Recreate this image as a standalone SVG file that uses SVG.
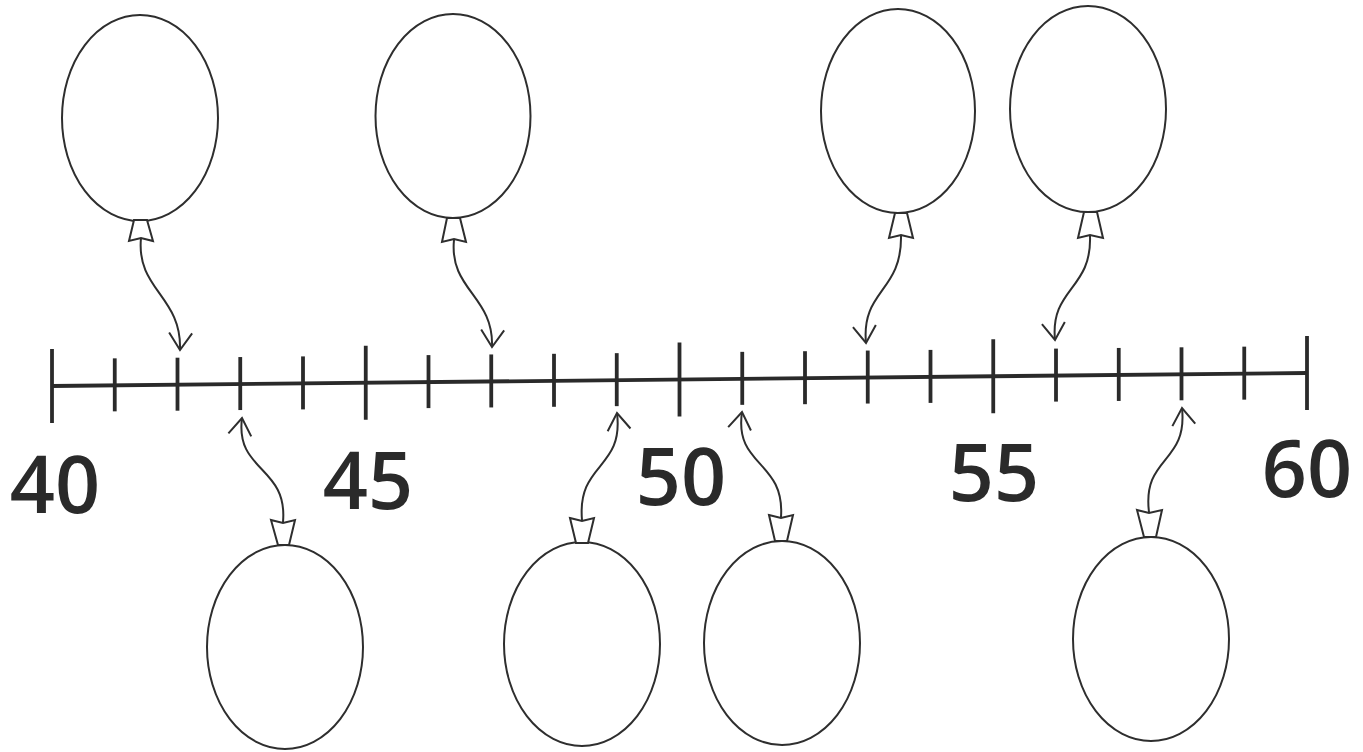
<svg xmlns="http://www.w3.org/2000/svg" width="1363" height="752" viewBox="0 0 1363 752">
<defs>
<style>
.bal{fill:#fff;stroke:#2e2e2e;stroke-width:2}
.knot{fill:#fff;stroke:#2e2e2e;stroke-width:2;stroke-linejoin:miter}
.str{fill:none;stroke:#2e2e2e;stroke-width:2;marker-end:url(#open)}
.tick{stroke:#2a2a2a;stroke-width:3.8;stroke-linecap:butt}
.num{font-family:"Open Sans","Liberation Sans",sans-serif;font-size:79px;font-weight:600;fill:#2a2a2a;text-anchor:middle}
</style>
<marker id="open" markerUnits="userSpaceOnUse" viewBox="-20 -14 24 28" markerWidth="24" markerHeight="28" refX="0" refY="0" orient="auto">
<path d="M-17,-11.5 L0,0 L-17,11.5" fill="none" stroke="#2e2e2e" stroke-width="2"/>
</marker>
</defs>
<rect width="1363" height="752" fill="#fff"/>

<g id="numberline">
<line class="tick" x1="52" y1="386" x2="1307" y2="373"/>
<line class="tick" x1="52" y1="349" x2="52" y2="423"/>
<line class="tick" x1="114.75" y1="358.35" x2="114.75" y2="411.35"/>
<line class="tick" x1="177.5" y1="357.7" x2="177.5" y2="410.7"/>
<line class="tick" x1="240.25" y1="357.05" x2="240.25" y2="410.05"/>
<line class="tick" x1="303" y1="356.4" x2="303" y2="409.4"/>
<line class="tick" x1="365.75" y1="345.75" x2="365.75" y2="419.75"/>
<line class="tick" x1="428.5" y1="355.1" x2="428.5" y2="408.1"/>
<line class="tick" x1="491.25" y1="354.45" x2="491.25" y2="407.45"/>
<line class="tick" x1="554" y1="353.8" x2="554" y2="406.8"/>
<line class="tick" x1="616.75" y1="353.15" x2="616.75" y2="406.15"/>
<line class="tick" x1="679.5" y1="342.5" x2="679.5" y2="416.5"/>
<line class="tick" x1="742.25" y1="351.85" x2="742.25" y2="404.85"/>
<line class="tick" x1="805" y1="351.2" x2="805" y2="404.2"/>
<line class="tick" x1="867.75" y1="350.55" x2="867.75" y2="403.55"/>
<line class="tick" x1="930.5" y1="349.9" x2="930.5" y2="402.9"/>
<line class="tick" x1="993.25" y1="339.25" x2="993.25" y2="413.25"/>
<line class="tick" x1="1056" y1="348.6" x2="1056" y2="401.6"/>
<line class="tick" x1="1118.75" y1="347.95" x2="1118.75" y2="400.95"/>
<line class="tick" x1="1181.5" y1="347.3" x2="1181.5" y2="400.3"/>
<line class="tick" x1="1244.25" y1="346.65" x2="1244.25" y2="399.65"/>
<line class="tick" x1="1307" y1="336" x2="1307" y2="410"/>
<text class="num" x="55" y="513">40</text>
<text class="num" x="368" y="509">45</text>
<text class="num" x="681" y="505">50</text>
<text class="num" x="994" y="501">55</text>
<text class="num" x="1307" y="497">60</text>
</g>

<g id="connectors">
<path class="str" d="M141,238 C136,290 182,296 180,350"/>
<path class="str" d="M454,240 C449,290 494,296 492,347"/>
<path class="str" d="M901,236 C902,292 861,290 866,343"/>
<path class="str" d="M1090,236 C1092,290 1050,288 1055,340"/>
<path class="str" d="M283,522 C288,466 235,472 242,418"/>
<path class="str" d="M582,520 C577,462 624,470 617,413"/>
<path class="str" d="M781,517 C785,460 734,467 742,412"/>
<path class="str" d="M1149,512 C1142,456 1188,464 1182,408"/>
</g>

<g id="balloon1">
<ellipse class="bal" cx="140" cy="118" rx="78" ry="103"/>
<path class="knot" d="M134,220 L147,220 L153,241 L141,238 L129,241 Z"/>
</g>
<g id="balloon2">
<ellipse class="bal" cx="453" cy="116" rx="77.5" ry="102"/>
<path class="knot" d="M447,218 L460,218 L466,242 L454,239 L442,242 Z"/>
</g>
<g id="balloon3">
<ellipse class="bal" cx="898" cy="111" rx="77" ry="102"/>
<path class="knot" d="M895,213 L907,213 L913,238 L901,235 L889,238 Z"/>
</g>
<g id="balloon4">
<ellipse class="bal" cx="1088" cy="109" rx="78" ry="103"/>
<path class="knot" d="M1084,212 L1097,212 L1103,238 L1090,235 L1078,238 Z"/>
</g>
<g id="balloon5">
<ellipse class="bal" cx="285" cy="647" rx="78" ry="102"/>
<path class="knot" d="M271,520 L283,523 L295,520 L289,545 L278,545 Z"/>
</g>
<g id="balloon6">
<ellipse class="bal" cx="582" cy="644" rx="78" ry="102"/>
<path class="knot" d="M570,518 L582,521 L594,518 L588,543 L576,543 Z"/>
</g>
<g id="balloon7">
<ellipse class="bal" cx="782" cy="643" rx="78" ry="102"/>
<path class="knot" d="M769,515 L781,518 L793,515 L787,541 L775,541 Z"/>
</g>
<g id="balloon8">
<ellipse class="bal" cx="1151" cy="639" rx="78" ry="102"/>
<path class="knot" d="M1137,510 L1149,513 L1162,510 L1156,537 L1144,537 Z"/>
</g>
</svg>
